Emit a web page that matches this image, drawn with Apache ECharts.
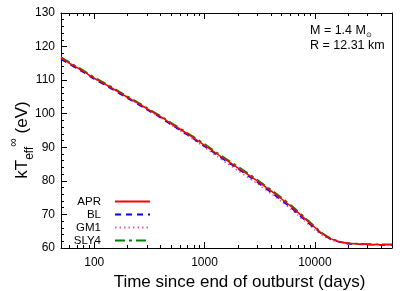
<!DOCTYPE html>
<html>
<head>
<meta charset="utf-8">
<script src="https://cdn.jsdelivr.net/npm/echarts@6/dist/echarts.min.js"></script>
<style>
html,body{margin:0;padding:0;background:#fff;}
#chart{width:415px;height:291px;}
</style>
</head>
<body>
<div id="chart"></div>
<script>
// Time since end of outburst (days)
var times = [50, 60, 70, 80, 100, 130, 160, 200, 250, 300, 400, 500, 700, 1000, 1300, 1600, 2000, 2500, 3000, 4000, 5000, 6000, 7000, 8000, 10000, 12000, 14000, 17000, 20000, 25000, 30000, 40000, 50000];
// kT_eff^inf (eV)
var apr  = [116.6, 115.0, 113.7, 112.6, 110.6, 108.5, 106.8, 104.9, 103.1, 101.5, 99.1, 97.0, 94.0, 90.6, 88.0, 86.0, 83.9, 81.8, 80.0, 77.0, 74.6, 72.5, 70.6, 68.9, 66.1, 64.0, 62.7, 61.8, 61.4, 61.2, 61.1, 61.0, 61.0];
var bl   = [116.2, 114.7, 113.4, 112.3, 110.3, 108.2, 106.5, 104.6, 102.8, 101.2, 98.8, 96.7, 93.7, 90.3, 87.7, 85.7, 83.6, 81.4, 79.6, 76.6, 74.2, 72.1, 70.2, 68.5, 65.8, 63.8, 62.6, 61.7, 61.3, 61.1, 61.0, 60.9, 60.9];
var gm1  = [116.5, 114.9, 113.6, 112.5, 110.5, 108.4, 106.7, 104.7, 102.9, 101.2, 98.8, 96.6, 93.5, 90.0, 87.3, 85.2, 83.1, 80.9, 79.2, 76.2, 73.8, 71.7, 69.8, 68.1, 65.4, 63.5, 62.4, 61.6, 61.3, 61.2, 61.1, 61.0, 61.0];
var sly4 = [116.9, 115.3, 114.0, 112.9, 110.9, 108.8, 107.1, 105.2, 103.4, 101.8, 99.4, 97.3, 94.3, 91.0, 88.4, 86.4, 84.3, 82.2, 80.4, 77.4, 75.0, 72.9, 71.0, 69.3, 66.4, 64.2, 62.9, 61.9, 61.5, 61.3, 61.2, 61.1, 61.1];
var seriesNames = ['APR', 'BL', 'GM1', 'SLY4'];
// axis ticks
var xMajorTicks = [100, 1000, 10000];
var xMinorTicks = [60, 70, 80, 90, 200, 300, 400, 500, 600, 700, 800, 900, 2000, 3000, 4000, 5000, 6000, 7000, 8000, 9000, 20000, 30000, 40000];

var chart = echarts.init(document.getElementById('chart'), null, {renderer: 'canvas'});
var FONT = 'Liberation Sans, Arial, Helvetica, sans-serif';

function mk(a, b) { return a.map(function (t, i) { return [t, b[i]]; }); }

function xAx(pos, ticks, len, showLine, labels) {
  return {
    type: 'log', logBase: 10, min: 50, max: 50000, position: pos,
    gridIndex: 0,
    axisLine: {show: showLine, onZero: false, lineStyle: {color: '#000', width: 1}},
    axisTick: {show: true, inside: true, length: len, customValues: ticks, lineStyle: {color: '#000', width: 1}},
    axisLabel: labels ? {show: true, customValues: xMajorTicks, color: '#000', fontSize: 12, fontFamily: FONT, margin: 9,
      formatter: function (v) { return String(Math.round(v)); }} : {show: false},
    splitLine: {show: false},
    minorTick: {show: false}
  };
}

var xAxes = [
  xAx('bottom', xMajorTicks, 6, true, true),
  xAx('bottom', xMinorTicks, 3, false, false),
  xAx('top', xMajorTicks, 6, true, false),
  xAx('top', xMinorTicks, 3, false, false)
];
xAxes[0].name = 'Time since end of outburst (days)';
xAxes[0].nameLocation = 'middle';
xAxes[0].nameGap = 24;
xAxes[0].nameTextStyle = {color: '#000', fontSize: 17, fontFamily: FONT, padding: [0, 0, 0, 26]};

function legendFor(name, top) {
  return {
    data: [name], right: 264, top: top, orient: 'vertical', align: 'right', padding: 0, z: 10,
    itemWidth: 35, itemHeight: 10, selectedMode: false,
    itemStyle: {color: 'rgba(0,0,0,0)', borderColor: 'rgba(0,0,0,0)', borderWidth: 0, opacity: 0},
    textStyle: {color: '#000', fontSize: 11.5, fontFamily: FONT, padding: [0, 9, 0, 0]}
  };
}

var option = {
  animation: false,
  backgroundColor: '#fff',
  grid: {left: 61, right: 23, top: 13, bottom: 43, containLabel: false, outerBoundsMode: 'none'},
  xAxis: xAxes,
  yAxis: [{
    type: 'value', min: 60, max: 130, interval: 10, position: 'left',
    axisLine: {show: true, lineStyle: {color: '#000', width: 1}},
    axisTick: {show: true, inside: true, length: 6, lineStyle: {color: '#000'}},
    minorTick: {show: true, splitNumber: 5, length: 3, lineStyle: {color: '#000'}},
    axisLabel: {color: '#000', fontSize: 12, fontFamily: FONT, margin: 6},
    splitLine: {show: false},
    name: '{n|kT}{sub|eff}{sup|∞}{n| (eV)}',
    nameLocation: 'middle', nameGap: 25, nameMoveOverlap: false,
    nameTextStyle: {
      color: '#000', fontFamily: FONT, padding: [0, 19, 0, 0],
      rich: {
        n: {fontSize: 17, lineHeight: 28, verticalAlign: 'middle', color: '#000', fontFamily: FONT},
        sub: {fontSize: 12, lineHeight: 12, verticalAlign: 'bottom', color: '#000', fontFamily: FONT},
        sup: {fontSize: 12, lineHeight: 12, verticalAlign: 'top', color: '#000', fontFamily: FONT}
      }
    }
  }, {
    type: 'value', min: 60, max: 130, interval: 10, position: 'right',
    axisLine: {show: true, lineStyle: {color: '#000', width: 1}},
    axisTick: {show: false}, axisLabel: {show: false}, splitLine: {show: false}
  }],
  legend: [
    legendFor('APR', 195.5),
    legendFor('BL', 208.5),
    legendFor('GM1', 221.5),
    legendFor('SLY4', 234.5)
  ],
  graphic: [{
    type: 'text', left: 310, top: 24, z: 100,
    style: {
      text: '{t|M = 1.4 M}{s|⊙}\n{t|R = 12.31 km}',
      rich: {
        t: {fontSize: 12.5, lineHeight: 15.5, fontFamily: FONT, fill: '#000', verticalAlign: 'middle'},
        s: {fontSize: 7, lineHeight: 7, fontFamily: 'DejaVu Sans', fill: '#000', verticalAlign: 'bottom'}
      }
    }
  }],
  series: [
    {name: 'SLY4', type: 'line', data: mk(times, sly4), symbol: 'none', smooth: 0.2, z: 2,
     lineStyle: {color: '#008000', width: 1.5, type: [10, 4, 3, 4]}, itemStyle: {color: '#008000'}},
    {name: 'GM1', type: 'line', data: mk(times, gm1), symbol: 'none', smooth: 0.2, z: 3,
     lineStyle: {color: '#e0608a', width: 1.5, type: [1.5, 3]}, itemStyle: {color: '#e0608a'}},
    {name: 'BL', type: 'line', data: mk(times, bl), symbol: 'none', smooth: 0.2, z: 4,
     lineStyle: {color: '#0000ff', width: 1.5, type: [6, 5]}, itemStyle: {color: '#0000ff'}},
    {name: 'APR', type: 'line', data: mk(times, apr), symbol: 'none', smooth: 0.2, z: 5,
     lineStyle: {color: '#ff0000', width: 1.5, type: 'solid'}, itemStyle: {color: '#ff0000'}}
  ]
};
chart.setOption(option);
</script>
</body>
</html>
